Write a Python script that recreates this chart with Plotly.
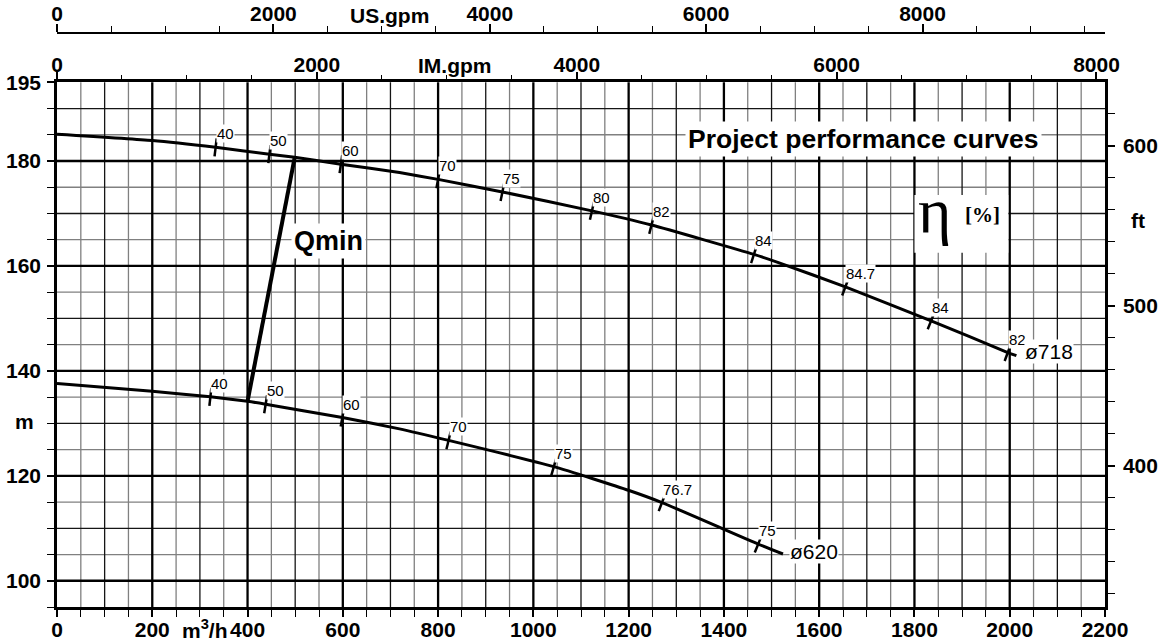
import numpy as np
import plotly.graph_objects as go

# ---------------- data ----------------
flow_718 = [0, 200, 333, 446, 499, 596, 719, 800, 935, 1123, 1248, 1463, 1516, 1655, 1835, 1996, 2014]
head_718 = [185.1, 183.9, 182.6, 181.3, 180.7, 179.4, 177.8, 176.5, 174.1, 170.5, 167.8, 162.2, 160.6, 156.0, 149.55, 143.5, 142.9]

flow_620 = [0, 200, 322, 400, 438, 599, 719, 822, 1043, 1201, 1270, 1472, 1524]
head_620 = [137.6, 136.1, 135.05, 134.2, 133.65, 131.1, 128.95, 126.75, 121.75, 117.2, 114.9, 107.0, 105.1]

eff_718_text = ["40", "50", "60", "70", "75", "80", "82", "84", "84.7", "84", "82"]
eff_718_flow = [333, 446, 596, 800, 935, 1123, 1248, 1463, 1655, 1835, 1996]
eff_718_head = [182.6, 181.3, 179.4, 176.5, 174.1, 170.5, 167.8, 162.2, 156.0, 149.55, 143.5]

eff_620_text = ["40", "50", "60", "70", "75", "76.7", "75"]
eff_620_flow = [322, 438, 599, 822, 1043, 1270, 1472]
eff_620_head = [135.05, 133.65, 131.1, 126.75, 121.75, 114.9, 107.0]

qmin_flow = [400, 499]
qmin_head = [134.2, 180.7]

x_ticks = list(range(0, 2201, 200))
y_ticks = [100, 120, 140, 160, 180, 195]
y_ticktext = ["100", "120", "140", "160", "180", "195"]
gpm_ticks = [0, 2000, 4000, 6000, 8000]
ft_ticks = [400, 500, 600]

# unit conversions
US_GPM = 4.40287
IM_GPM = 3.66615
FT = 3.28084

X_MAX = 2200
Y_MIN, Y_MAX = 95, 195

# ---------------- geometry ----------------
W, H = 1174, 642
ML, MR, MT, MB = 57, 69, 33, 35
PAPER_H = H - MT - MB
Y_DOM_TOP = (607 - 82.3) / PAPER_H
PX_X = (W - ML - MR) / X_MAX
PX_M = PAPER_H * Y_DOM_TOP / (Y_MAX - Y_MIN)


def py(px):
    return (H - MB - px) / PAPER_H


SANS = "Liberation Sans, Arial, Helvetica, sans-serif"
SERIF = "Liberation Serif, Times New Roman, serif"
TICKFONT = dict(family=SANS, size=21, color="black", weight="bold")


def tick_angles(flow, head, mflow):
    f = np.asarray(flow, float)
    h = np.asarray(head, float)
    slope = np.gradient(h, f)
    s = np.interp(mflow, f, slope)
    return np.degrees(np.arctan(-s * PX_M / PX_X))


fig = go.Figure()

# curves
for fl, hd in ((flow_718, head_718), (flow_620, head_620)):
    fig.add_trace(go.Scatter(x=fl, y=hd, mode="lines",
                             line=dict(color="black", width=3, shape="spline", smoothing=0.5),
                             hoverinfo="skip", showlegend=False))

fig.add_trace(go.Scatter(x=qmin_flow, y=qmin_head, mode="lines", line=dict(color="black", width=4),
                         hoverinfo="skip", showlegend=False))

# efficiency tick marks
for fl, hd, ef, eh in ((flow_718, head_718, eff_718_flow, eff_718_head),
                       (flow_620, head_620, eff_620_flow, eff_620_head)):
    fig.add_trace(go.Scatter(x=ef, y=eh, mode="markers",
                             marker=dict(symbol="line-ns-open", size=13, color="black",
                                         angle=tick_angles(fl, hd, ef),
                                         line=dict(color="black", width=2.5)),
                             hoverinfo="skip", showlegend=False))

# dummy traces to activate the extra axes
fig.add_trace(go.Scatter(x=[None], y=[None], xaxis="x2", yaxis="y", showlegend=False))
fig.add_trace(go.Scatter(x=[None], y=[None], xaxis="x3", yaxis="y", showlegend=False))
fig.add_trace(go.Scatter(x=[None], y=[None], xaxis="x", yaxis="y2", showlegend=False))

# ---------------- grid (three weights) ----------------
GRAY = dict(color="#808080", width=1.3)
THIN = dict(color="#151515", width=1.3)
THICK = dict(color="black", width=2.3)

grid = {"gray": [], "thin": [], "thick": []}
for v in np.arange(50, X_MAX, 50):
    key = "thick" if v % 200 == 0 else ("thin" if v % 100 == 0 else "gray")
    grid[key].append(("x", v))
for v in np.arange(100, Y_MAX, 5):
    key = "thick" if v % 20 == 0 else ("thin" if v % 10 == 0 else "gray")
    grid[key].append(("y", v))

shapes = []
for key, style in (("gray", GRAY), ("thin", THIN), ("thick", THICK)):
    for axis, v in grid[key]:
        if axis == "x":
            shapes.append(dict(type="line", xref="x", yref="y domain", x0=v, x1=v, y0=0, y1=1,
                               line=style, layer="below"))
        else:
            shapes.append(dict(type="line", xref="x domain", yref="y", x0=0, x1=1, y0=v, y1=v,
                               line=style, layer="below"))

# white panel behind the eta symbol
shapes.append(dict(type="rect", xref="x", yref="y", x0=1800, x1=1997, y0=162.5, y1=173.5,
                   fillcolor="white", line=dict(width=0), layer="below"))

# ---------------- annotations ----------------
ann = []
for ef, eh, et in ((eff_718_flow, eff_718_head, eff_718_text),
                   (eff_620_flow, eff_620_head, eff_620_text)):
    for x, y, t in zip(ef, eh, et):
        ann.append(dict(x=x, y=y, xref="x", yref="y", text=t, showarrow=False,
                        xanchor="left", yanchor="bottom", xshift=0, yshift=4,
                        font=dict(family=SANS, size=15, color="black"),
                        bgcolor="white", borderpad=0))

ann += [
    dict(x=2031, y=143.6, xref="x", yref="y", text="ø718", showarrow=False, xanchor="left",
         yanchor="middle", font=dict(family=SANS, size=21, color="black"), bgcolor="white", borderpad=0),
    dict(x=1536, y=105.5, xref="x", yref="y", text="ø620", showarrow=False, xanchor="left",
         yanchor="middle", font=dict(family=SANS, size=21, color="black"), bgcolor="white", borderpad=0),
    dict(x=570, y=164.7, xref="x", yref="y", text="Qmin", showarrow=False, xanchor="center",
         yanchor="middle", font=dict(family=SANS, size=27, color="black", weight="bold"),
         bgcolor="white", borderpad=2),
    dict(x=1694, y=184.2, xref="x", yref="y", text="Project performance curves", showarrow=False,
         xanchor="center", yanchor="middle",
         font=dict(family=SANS, size=26.5, color="black", weight="bold"),
         bgcolor="white", borderpad=2),
    dict(x=1843, y=170.5, xref="x", yref="y", text="η", showarrow=False, xanchor="center",
         yanchor="middle", font=dict(family=SERIF, size=64, color="black")),
    dict(x=1943, y=169.7, xref="x", yref="y", text="[%]", showarrow=False, xanchor="center",
         yanchor="middle", font=dict(family=SERIF, size=21, color="black", weight="bold")),
    # axis titles
    dict(x=3075, y=py(15), xref="x3", yref="paper", text="US.gpm", showarrow=False, xanchor="center",
         yanchor="middle", font=TICKFONT),
    dict(x=3060, y=py(65), xref="x2", yref="paper", text="IM.gpm", showarrow=False, xanchor="center",
         yanchor="middle", font=TICKFONT),
    dict(x=310, y=py(629), xref="x", yref="paper", text="m<sup>3</sup>/h", showarrow=False,
         xanchor="center", yanchor="middle", font=TICKFONT),
    dict(x=(24 - ML) / (W - ML - MR), y=130.4, xref="paper", yref="y", text="m", showarrow=False,
         xanchor="center", yanchor="middle", font=TICKFONT),
    dict(x=(1138 - ML) / (W - ML - MR), y=168.6, xref="paper", yref="y", text="ft", showarrow=False,
         xanchor="center", yanchor="middle", font=TICKFONT),
]

AX_COMMON = dict(showgrid=False, zeroline=False, tickfont=TICKFONT, linecolor="black",
                 tickcolor="black", showline=True, automargin=False)

fig.update_layout(
    width=W, height=H,
    margin=dict(l=ML, r=MR, t=MT, b=MB, autoexpand=False),
    paper_bgcolor="white", plot_bgcolor="white",
    showlegend=False,
    shapes=shapes,
    annotations=ann,
    xaxis=dict(**AX_COMMON, range=[0, X_MAX], domain=[0, 1], anchor="y",
               tickmode="array", tickvals=x_ticks, ticks="outside", ticklen=7, tickwidth=2,
               linewidth=2.5, ticklabelstandoff=-5,
               minor=dict(tickmode="linear", tick0=0, dtick=50, ticks="outside", ticklen=7,
                          tickwidth=1.3, tickcolor="black", showgrid=False)),
    xaxis2=dict(**AX_COMMON, range=[0, X_MAX * IM_GPM], overlaying="x", side="top", anchor="y",
                tickmode="array", tickvals=gpm_ticks, ticks="outside", ticklen=8, tickwidth=2.2,
                linewidth=2.5, ticklabelstandoff=-9,
                minor=dict(tickmode="linear", tick0=0, dtick=500, ticks="outside", ticklen=5,
                           tickwidth=1.3, tickcolor="black", showgrid=False)),
    xaxis3=dict(**AX_COMMON, range=[0, X_MAX * US_GPM], overlaying="x", side="top", anchor="free",
                position=1, tickmode="array", tickvals=gpm_ticks, ticks="outside", ticklen=8,
                tickwidth=2.2, linewidth=1.6, ticklabelstandoff=-5,
                minor=dict(tickmode="linear", tick0=0, dtick=500, ticks="outside", ticklen=6,
                           tickwidth=1.3, tickcolor="black", showgrid=False)),
    yaxis=dict(**AX_COMMON, range=[Y_MIN, Y_MAX], domain=[0, Y_DOM_TOP], anchor="x",
               tickmode="array", tickvals=y_ticks, ticktext=y_ticktext, ticks="outside",
               ticklen=7, tickwidth=2, linewidth=2.5, ticklabelstandoff=2,
               minor=dict(tickmode="linear", tick0=0, dtick=5, ticks="outside", ticklen=7,
                          tickwidth=1.3, tickcolor="black", showgrid=False)),
    yaxis2=dict(**AX_COMMON, range=[Y_MIN * FT, Y_MAX * FT], overlaying="y", side="right",
                anchor="x", tickmode="array", tickvals=ft_ticks, ticks="outside", ticklen=7,
                tickwidth=2, linewidth=2.5, ticklabelstandoff=4,
                minor=dict(tickmode="linear", tick0=0, dtick=20, ticks="outside", ticklen=7,
                           tickwidth=1.3, tickcolor="black", showgrid=False)),
)

fig.write_html("out.html", config={"displayModeBar": False},
               post_script="document.body.style.margin='0';document.body.style.overflow='hidden';")
